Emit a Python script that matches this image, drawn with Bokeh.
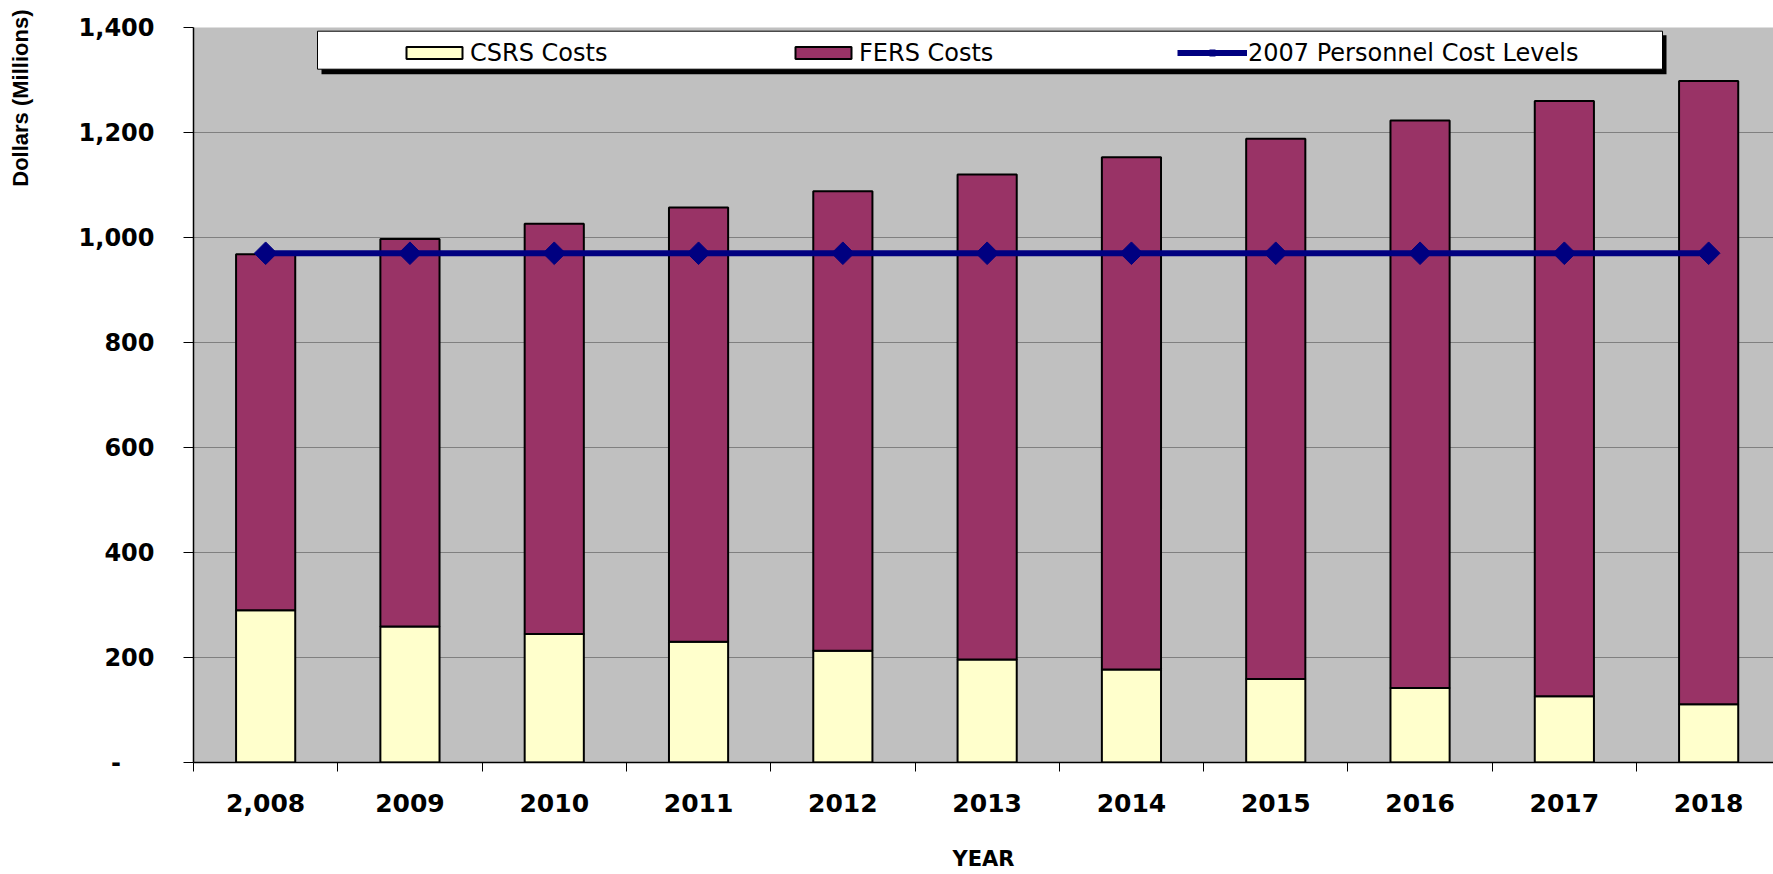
import math
from bokeh.plotting import figure
from bokeh.models import (ColumnDataSource, Range1d, FixedTicker, NumeralTickFormatter,
                          Legend, LegendItem, BoxAnnotation, Title)
from bokeh.embed import file_html
from bokeh.resources import INLINE

# ---- data ----
years = ["2,008", "2009", "2010", "2011", "2012", "2013", "2014", "2015", "2016", "2017", "2018"]
csrs_costs = [290, 259, 245, 230, 213, 196, 177, 159, 142, 126, 111]
fers_costs = [678, 738, 781, 827, 875, 924, 976, 1029, 1081, 1134, 1187]
cost_2007 = [970, 970, 970, 970, 970, 970, 970, 970, 970, 970, 970]
y_ticks = [0, 200, 400, 600, 800, 1000, 1200, 1400]
series_names = ["CSRS Costs", "FERS Costs", "2007 Personnel Cost Levels"]
x_title = "YEAR"
y_title = "Dollars (Millions)"

xs = list(range(len(years)))
source = ColumnDataSource(dict(x=xs, csrs=csrs_costs, fers=fers_costs, level=cost_2007))

W, H = 1773, 874
BL, BR, BT, BB = 193, 0, 27, 112
frame_w = W - BL - BR
px_per_cat = 144.3

p = figure(width=W, height=H, output_backend="svg", toolbar_location=None,
           x_range=Range1d(-0.5, -0.5 + frame_w / px_per_cat), y_range=Range1d(0, 1400),
           min_border_left=BL, min_border_right=BR, min_border_top=BT, min_border_bottom=BB,
           background_fill_color="#C0C0C0", border_fill_color="white",
           outline_line_color=None)

bars = p.vbar_stack(["csrs", "fers"], x="x", width=0.41, source=source,
                    fill_color=["#FFFFCC", "#993366"], line_color="black", line_width=2)
line_r = p.line("x", "level", source=source, line_color="#000080", line_width=6)
pts_r = p.scatter("x", "level", source=source, marker="square", size=16, angle=math.pi / 4,
                  fill_color="#000080", line_color="#000080")

# ---- axes ----
yax = p.yaxis[0]
yax.ticker = FixedTicker(ticks=y_ticks)
yax.formatter = NumeralTickFormatter(format="0,0")
yax.major_label_overrides = {0: "-\u00a0\u00a0\u00a0\u00a0"}
yax.major_tick_out = 10
yax.major_tick_in = 0
yax.major_tick_line_color = "black"
yax.major_label_standoff = 29
yax.major_label_text_font = "DejaVu Sans"
yax.major_label_text_font_style = "bold"
yax.major_label_text_font_size = "24px"
yax.major_label_text_color = "black"
yax.axis_line_color = "black"
yax.axis_line_width = 1.5
# blank axis label used only as horizontal room before the vertical title
yax.axis_label = "\u00a0"
yax.axis_label_standoff = 38
yax.axis_label_text_font_size = "2px"

p.add_layout(Title(text=y_title, align="right", vertical_align="bottom", offset=-18,
                   standoff=0, text_font="Liberation Sans", text_font_style="bold",
                   text_font_size="22px", text_color="black"), "left")

xax = p.xaxis[0]
xax.ticker = FixedTicker(ticks=xs, minor_ticks=[i - 0.5 for i in range(len(years) + 1)])
xax.major_label_overrides = {i: lab for i, lab in enumerate(years)}
xax.major_tick_line_color = None
xax.major_tick_out = 9
xax.major_tick_in = 0
xax.minor_tick_out = 9
xax.minor_tick_in = 0
xax.minor_tick_line_color = "black"
xax.major_label_standoff = 22
xax.major_label_text_font = "DejaVu Sans"
xax.major_label_text_font_style = "bold"
xax.major_label_text_font_size = "25px"
xax.major_label_text_color = "black"
xax.axis_line_color = "black"
xax.axis_line_width = 1.5
xax.axis_label = x_title
xax.axis_label_standoff = 32
xax.axis_label_text_font = "DejaVu Sans"
xax.axis_label_text_font_style = "bold"
xax.axis_label_text_font_size = "21px"
xax.axis_label_text_color = "black"

p.xgrid.visible = False
p.ygrid.grid_line_color = "#808080"
p.ygrid.grid_line_width = 1

# ---- legend box with shadow ----
shadow = BoxAnnotation(left=128, right=1473, top=727.3, bottom=688.3,
                       left_units="screen", right_units="screen",
                       top_units="screen", bottom_units="screen",
                       fill_color="black", fill_alpha=1, line_color=None)
box = BoxAnnotation(left=124, right=1469, top=731.3, bottom=693.3,
                    left_units="screen", right_units="screen",
                    top_units="screen", bottom_units="screen",
                    fill_color="white", fill_alpha=1, line_color="black",
                    line_alpha=1, line_width=1)
p.add_layout(shadow)
p.add_layout(box)

legend = Legend(items=[LegendItem(label=series_names[0], renderers=[bars[0]]),
                       LegendItem(label=series_names[1], renderers=[bars[1]]),
                       LegendItem(label=series_names[2], renderers=[line_r, pts_r])],
                orientation="horizontal", location=(206, 695.5), padding=0, margin=0,
                spacing=0, glyph_width=70, glyph_height=15, label_standoff=1,
                label_width=318, label_text_font="DejaVu Sans", label_text_font_size="24px",
                label_text_color="black", background_fill_alpha=0, border_line_color=None)
p.add_layout(legend)

open("out.html", "w").write(file_html(p, INLINE))
